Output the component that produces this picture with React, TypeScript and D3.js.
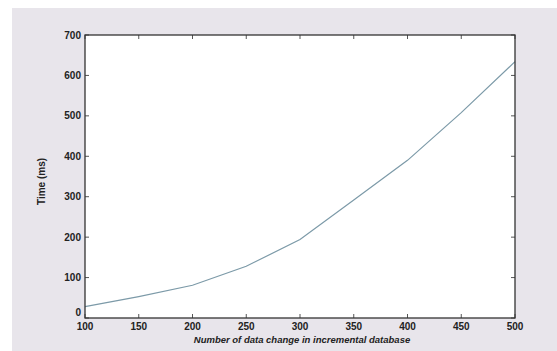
import React from "react";
import * as d3 from "d3";

// values
const changes = [100, 150, 200, 250, 300, 350, 400, 450, 500];
const timeMs = [28, 53, 81, 128, 194, 292, 390, 508, 634];
const xTicks = [100, 150, 200, 250, 300, 350, 400, 450, 500];
const yTicks = [0, 100, 200, 300, 400, 500, 600, 700];

const W = 557;
const H = 351;
const margin = { top: 35, right: 42, bottom: 33, left: 85 };

export default function App() {
  const x = d3.scaleLinear().domain([100, 500]).range([margin.left, W - margin.right]);
  const y = d3.scaleLinear().domain([0, 700]).range([H - margin.bottom, margin.top]);

  const line = d3.line<number>()
    .x((d, i) => x(changes[i]))
    .y(d => y(d));

  const x0 = x(100), x1 = x(500), y0 = y(0), y1 = y(700);
  const tk = 4;
  const font = "Arial, 'Liberation Sans', sans-serif";

  return (
    <svg width={W} height={H} style={{ position: "absolute", left: 0, top: 0 }}>
      <rect x={0} y={0} width={W} height={H} fill="#ffffff" />
      <rect x={12} y={8} width={W - 12} height={H - 8} fill="#e8e5eb" />
      <rect x={x0} y={y1} width={x1 - x0} height={y0 - y1} fill="#ffffff" />

      {/* ticks, inward on all sides */}
      {xTicks.map(t => (
        <g key={"x" + t} stroke="#555" strokeWidth={1}>
          <line x1={x(t)} x2={x(t)} y1={y0} y2={y0 - tk} />
          <line x1={x(t)} x2={x(t)} y1={y1} y2={y1 + tk} />
        </g>
      ))}
      {yTicks.map(t => (
        <g key={"y" + t} stroke="#555" strokeWidth={1}>
          <line x1={x0} x2={x0 + tk} y1={y(t)} y2={y(t)} />
          <line x1={x1} x2={x1 - tk} y1={y(t)} y2={y(t)} />
        </g>
      ))}

      <path d={line(timeMs) || ""} fill="none" stroke="#7c9aa8" strokeWidth={1.2} />

      <rect x={x0} y={y1} width={x1 - x0} height={y0 - y1} fill="none" stroke="#333" strokeWidth={1.3} />

      {xTicks.map(t => (
        <text key={"xl" + t} x={x(t)} y={y0 + 12} textAnchor="middle"
          fontFamily={font} fontSize={10} fontWeight="bold" fill="#222">{t}</text>
      ))}
      {yTicks.map(t => (
        <text key={"yl" + t} x={x0 - 4} y={y(t) + (t === 0 ? -2 : 3.5)} textAnchor="end"
          fontFamily={font} fontSize={10} fontWeight="bold" fill="#222">{t}</text>
      ))}

      <text x={(x0 + x1) / 2 + 2} y={y0 + 25} textAnchor="middle" fontFamily={font}
        fontSize={9.5} fontWeight="bold" fontStyle="italic" fill="#222">
        Number of data change in incremental database
      </text>
      <text transform={`translate(45, ${(y0 + y1) / 2 + 5}) rotate(-90)`} textAnchor="middle"
        fontFamily={font} fontSize={10} fontWeight="bold" fill="#222">
        Time (ms)
      </text>
    </svg>
  );
}
